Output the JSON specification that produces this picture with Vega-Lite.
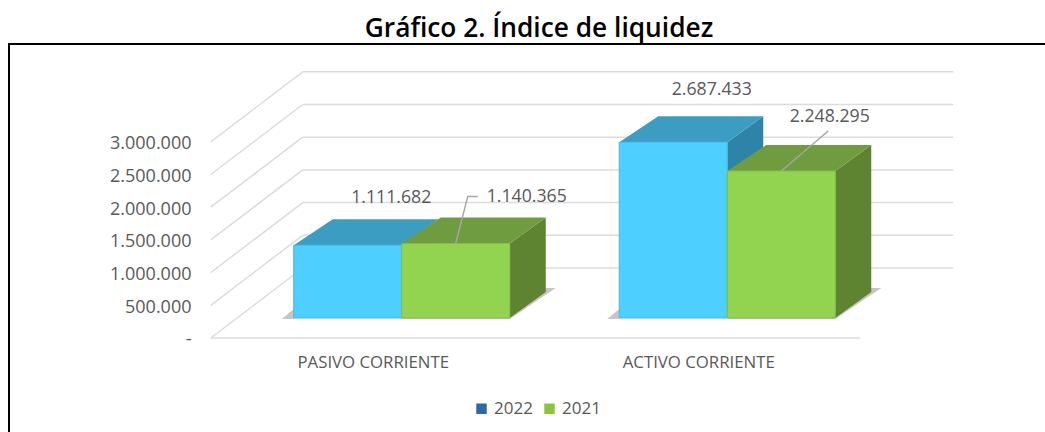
{
"$schema":"https://vega.github.io/schema/vega-lite/v6.json",
"width":1040,"height":400,"autosize":{"type":"none"},
"padding":{"left":9,"top":44,"right":0,"bottom":0},
"background":"white",
"title":{"text":"Gráfico 2. Índice de liquidez","font":"Open Sans","fontSize":26.3,"fontWeight":600,"color":"#000000","anchor":"middle","offset":2,"dx":10},
"config":{"view":{"stroke":"#000000","strokeWidth":2},"font":"Open Sans",
"locale":{"number":{"decimal":",","thousands":".","grouping":[3],"currency":["$",""]}}},
"datasets":{
"barras":[
{"categoria":"PASIVO CORRIENTE","serie":"2022","valor":1111682},
{"categoria":"PASIVO CORRIENTE","serie":"2021","valor":1140365},
{"categoria":"ACTIVO CORRIENTE","serie":"2022","valor":2687433},
{"categoria":"ACTIVO CORRIENTE","serie":"2021","valor":2248295}],
"rejilla":[{"valor":0},{"valor":500000},{"valor":1000000},{"valor":1500000},{"valor":2000000},{"valor":2500000},{"valor":3000000}]
},
"data":{"name":"barras"},
"resolve":{"scale":{"color":"independent","shape":"independent"}},
"encoding":{
"x":{"field":"categoria","type":"nominal","title":null,
"scale":{"domain":["PASIVO CORRIENTE","ACTIVO CORRIENTE"],"range":[230,881],"paddingInner":0.3364,"paddingOuter":0.1682},
"axis":{"orient":"bottom","offset":-90,"domain":false,"ticks":false,"labelAngle":0,"labelPadding":0,"labelOffset":-28.5,"labelFontSize":16.8,"labelColor":"#595959","labelFont":"Open Sans","labelBaseline":"top"}},
"y":{"field":"valor","type":"quantitative","title":null,
"scale":{"domain":[-1926606,4189602],"nice":false,"zero":false},
"axis":{"values":[0,500000,1000000,1500000,2000000,2500000,3000000],"orient":"left","offset":-182,"domain":false,"ticks":false,"grid":false,"labelPadding":0,"labelOffset":22,"labelFontSize":18,"labelColor":"#595959","labelFont":"Open Sans","format":",d","labelExpr":"datum.value===0?'-':datum.label"}}
},
"layer":[
{"data":{"name":"rejilla"},
 "mark":{"type":"rule","color":"#dcdcdc","strokeWidth":1.5,"xOffset":9,"x2Offset":118,"yOffset":-50},
 "encoding":{"x":{"datum":"PASIVO CORRIENTE","bandPosition":0,"title":null},"x2":{"datum":"ACTIVO CORRIENTE","bandPosition":1}}},
{"data":{"name":"rejilla"},
 "mark":{"type":"rule","color":"#dcdcdc","strokeWidth":1.5,"xOffset":-83,"x2Offset":9,"yOffset":20,"y2Offset":-50},
 "encoding":{"x":{"datum":"PASIVO CORRIENTE","bandPosition":0,"title":null},"x2":{"datum":"PASIVO CORRIENTE","bandPosition":0},"y2":{"field":"valor"}}},
{"data":{"values":[{"valor":0}]},
 "mark":{"type":"rule","color":"#dcdcdc","strokeWidth":1.5,"xOffset":-83,"x2Offset":25,"yOffset":20},
 "encoding":{"x":{"datum":"PASIVO CORRIENTE","bandPosition":0,"title":null},"x2":{"datum":"ACTIVO CORRIENTE","bandPosition":1}}},
{"mark":{"type":"square","size":1,"opacity":1},
 "encoding":{"xOffset":{"field":"serie","type":"nominal","scale":{"domain":["2022","2021"]}},"y":{"datum":500000},
 "color":{"field":"serie","type":"nominal","scale":{"domain":["2022","2021"],"range":["#2F68A8","#8CC63F"]},
 "legend":{"title":null,"orient":"none","legendX":464,"legendY":356,"direction":"horizontal","symbolType":"square","symbolSize":110,"labelFontSize":17,"labelColor":"#595959","labelFont":"Open Sans","columnPadding":8,"symbolOpacity":1}}}},
{"mark":{"type":"point","filled":true,"size":4,"opacity":0.4,"strokeWidth":0},
 "encoding":{"xOffset":{"field":"serie","type":"nominal","scale":{"domain":["2022","2021"]}},"y":{"datum":0},
 "color":{"value":"#707070"},
 "shape":{"field":"serie","type":"nominal","legend":null,"scale":{"domain":["2022","2021"],"range":["M-66,1 L-54,-9 L-54,1 Z","M-54,1 L54,1 L100,-30 L88,-30 L54,-8 L-54,-8 Z"]}}}},
{"mark":{"type":"point","filled":true,"size":4,"opacity":1,"strokeWidth":0},
 "encoding":{"xOffset":{"field":"serie","type":"nominal","scale":{"domain":["2022","2021"]}},
 "color":{"field":"serie","type":"nominal","legend":null,"scale":{"domain":["2022","2021"],"range":["#2E84A8","#5E8431"]}},
 "shape":{"field":"valor","type":"nominal","legend":null,"scale":{"domain":[1111682,1140365,2687433,2248295],
 "range":["M54,0 L90,-26 L90,46.7 L54,72.7 Z","M54,0 L90,-26 L90,48.6 L54,74.6 Z","M54,0 L90,-26 L90,149.8 L54,175.8 Z","M54,0 L90,-26 L90,121 L54,147 Z"]}}}},
{"mark":{"type":"point","filled":true,"size":4,"opacity":1,"strokeWidth":0,"shape":"M-54,0 L54,0 L90,-26 L-15,-26 Z"},
 "encoding":{"xOffset":{"field":"serie","type":"nominal","scale":{"domain":["2022","2021"]}},
 "color":{"field":"serie","type":"nominal","legend":null,"scale":{"domain":["2022","2021"],"range":["#3C9DC2","#6F9C3E"]}}}},
{"mark":{"type":"bar","strokeWidth":1},
 "encoding":{"xOffset":{"field":"serie","type":"nominal","scale":{"domain":["2022","2021"],"paddingInner":0,"paddingOuter":0}},
 "y2":{"datum":0},
 "color":{"field":"serie","type":"nominal","legend":null,"scale":{"domain":["2022","2021"],"range":["#4DCFFF","#92D350"]}},
 "stroke":{"field":"serie","type":"nominal","legend":null,"scale":{"domain":["2022","2021"],"range":["#45B8E2","#7FBE48"]}}}},
{"transform":[{"filter":"datum.valor===1140365"}],
 "mark":{"type":"point","filled":false,"size":4,"opacity":1,"strokeWidth":1.5,"color":"#a6a6a6","shape":"M0,0 L12,-47 L22,-47"},
 "encoding":{"xOffset":{"field":"serie","type":"nominal","scale":{"domain":["2022","2021"]}}}},
{"transform":[{"filter":"datum.valor===2248295"}],
 "mark":{"type":"point","filled":false,"size":4,"opacity":1,"strokeWidth":1.5,"color":"#a6a6a6","shape":"M0,0 L47,-40"},
 "encoding":{"xOffset":{"field":"serie","type":"nominal","scale":{"domain":["2022","2021"]}}}},
{"transform":[{"filter":"datum.valor===1111682"}],
 "mark":{"type":"text","fontSize":17.7,"color":"#595959","dx":43.5,"dy":-47},
 "encoding":{"xOffset":{"field":"serie","type":"nominal","scale":{"domain":["2022","2021"]}},"text":{"field":"valor","type":"quantitative","format":",d"}}},
{"transform":[{"filter":"datum.valor===1140365"}],
 "mark":{"type":"text","fontSize":17.7,"color":"#595959","dx":71,"dy":-46},
 "encoding":{"xOffset":{"field":"serie","type":"nominal","scale":{"domain":["2022","2021"]}},"text":{"field":"valor","type":"quantitative","format":",d"}}},
{"transform":[{"filter":"datum.valor===2687433"}],
 "mark":{"type":"text","fontSize":17.7,"color":"#595959","dx":38.5,"dy":-52},
 "encoding":{"xOffset":{"field":"serie","type":"nominal","scale":{"domain":["2022","2021"]}},"text":{"field":"valor","type":"quantitative","format":",d"}}},
{"transform":[{"filter":"datum.valor===2248295"}],
 "mark":{"type":"text","fontSize":17.7,"color":"#595959","dx":48.5,"dy":-54},
 "encoding":{"xOffset":{"field":"serie","type":"nominal","scale":{"domain":["2022","2021"]}},"text":{"field":"valor","type":"quantitative","format":",d"}}}
]
}
